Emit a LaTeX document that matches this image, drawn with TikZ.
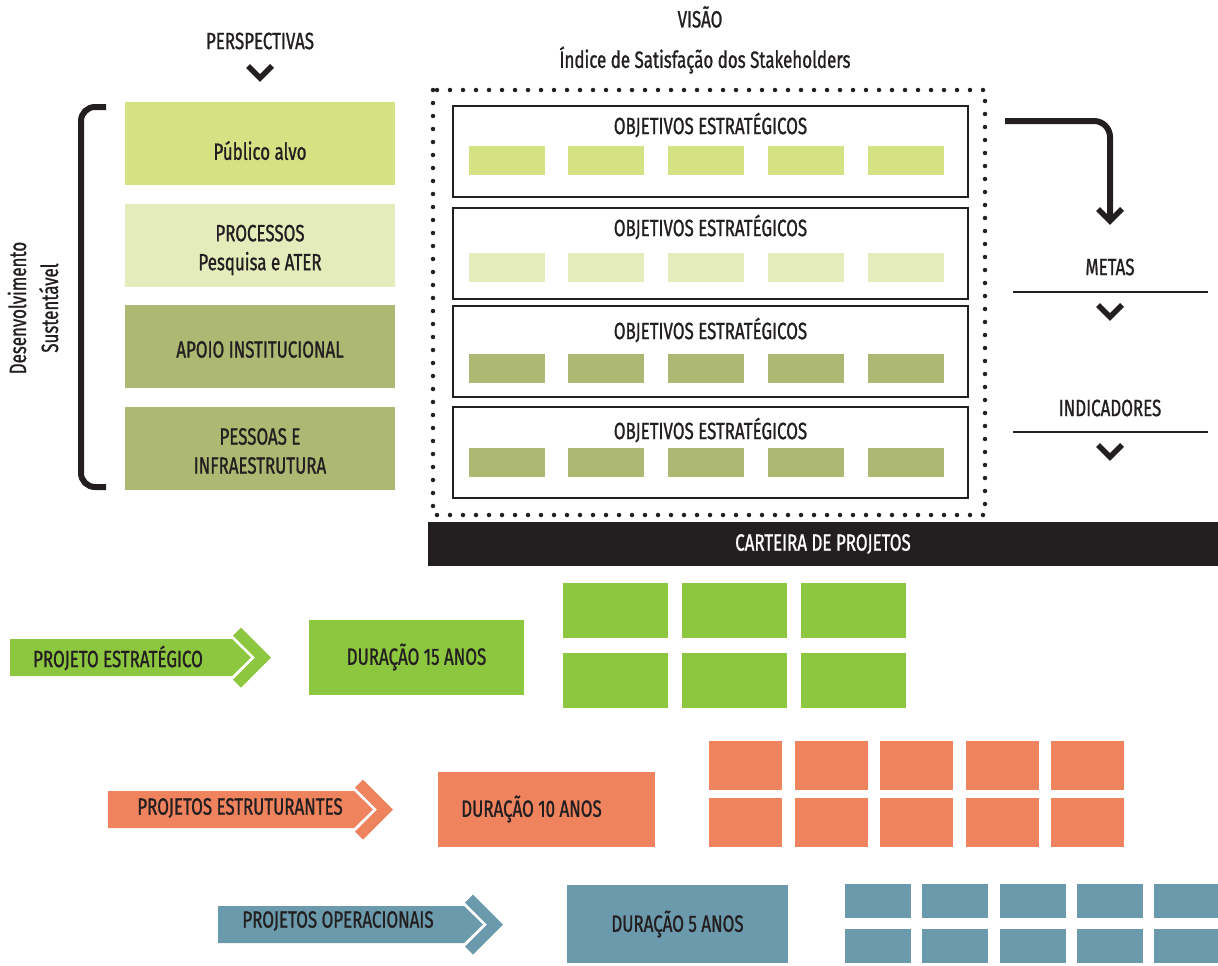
\documentclass[tikz,border=0pt]{standalone}
\usepackage{fontspec}
\setmainfont{Fira Sans}[FakeStretch=0.72, FakeBold=1]
\usepackage{xcolor}
\usepackage{tikz}
\usetikzlibrary{positioning,calc}

\definecolor{verdeclaro}{HTML}{D4E284}
\definecolor{verdepalido}{HTML}{E4ECBC}
\definecolor{verdeoliva}{HTML}{ADB972}
\definecolor{verdeproj}{HTML}{8DC63F}
\definecolor{laranja}{HTML}{EE835E}
\definecolor{azulproj}{HTML}{6A9AAB}
\definecolor{tinta}{HTML}{231F20}

% seta de projeto: barra + chevron
\newcommand\projseta[4]{%
  \fill[#4] (#1,{#3-18.5}) -- (#2,{#3-18.5}) -- ({#2+19},#3) -- (#2,{#3+18.5}) -- (#1,{#3+18.5}) -- cycle;
  \fill[#4] ({#2+9},{#3-30}) -- ({#2+39},#3) -- ({#2+9},{#3+30}) -- ({#2+1},{#3+22}) -- ({#2+23},#3) -- ({#2+1},{#3-22}) -- cycle;}
\newcommand\chevron[2]{%
  \draw[tinta, line width=5.5pt, line join=miter] ({#1-12},{#2-6}) -- (#1,{#2+6}) -- ({#1+12},{#2-6});}

\begin{document}
\begin{tikzpicture}[x=1pt, y=-1pt,
  every node/.style={font=\fontsize{23.5}{29}\selectfont, text=tinta},
  pbox/.style={minimum width=270pt, minimum height=83pt, inner sep=0pt},
  objbox/.style={draw=tinta, line width=2pt, minimum width=515pt, minimum height=91pt, inner sep=0pt},
  durbox/.style={minimum height=75pt, inner sep=0pt}]
  \useasboundingbox (0,0) rectangle (1218,966);

  \node (visao) at (700,17) {VISÃO};
  \node (indice) at (705,60) {Índice de Satisfação dos Stakeholders};
  \node (persp) at (260,41) {PERSPECTIVAS};
  \chevron{260}{72}

  % perspectivas
  \node[pbox, fill=verdeclaro] (persp1) at (260,143.5) {};
  \node[pbox, fill=verdepalido] (persp2) at (260,245) {};
  \node[pbox, fill=verdeoliva] (persp3) at (260,346.5) {};
  \node[pbox, fill=verdeoliva] (persp4) at (260,448.5) {};
  \node (ptxt1) at ([yshift=-7pt]persp1.center) {Público alvo};
  \node[align=center] (ptxt2) at ([yshift=-5pt]persp2.center) {PROCESSOS\\Pesquisa e ATER};
  \node (ptxt3) at ([yshift=-3pt]persp3.center) {APOIO INSTITUCIONAL};
  \node[align=center] (ptxt4) at ([yshift=-2.5pt]persp4.center) {PESSOAS E\\INFRAESTRUTURA};
  \draw[tinta, line width=6pt, rounded corners=14pt] (106,107) -| (81,300) |- (106,487);
  \node[rotate=90, align=center, font=\fontsize{23.5}{32}\selectfont] (desenv) at (33,308) {Desenvolvimento\\Sustentável};

  % objetivos
  \draw[tinta, line width=4.5pt, line cap=round, dash pattern=on 0pt off 13pt] (433,90) rectangle (985,515);
  \foreach \i/\yc/\yt/\ys/\cor in {1/151.5/125/160.5/verdeclaro, 2/253/227/267.5/verdepalido,
                                  3/351/330/368.5/verdeoliva, 4/452/430/462.5/verdeoliva}{
    \node[objbox] (obj\i) at (710.5,\yc) {};
    \node (tit\i) at (710.5,\yt) {OBJETIVOS ESTRATÉGICOS};
    \foreach \x in {507,606,706,806,906}
      \fill[\cor] ({\x-38},{\ys-14.5}) rectangle ({\x+38},{\ys+14.5});
  }
  \node[fill=tinta, text=white, minimum width=790pt, minimum height=44pt, inner sep=0pt] (carteira) at (823,544) {CARTEIRA DE PROJETOS};

  % metas e indicadores
  \coordinate (saida) at (1005,121);
  \draw[tinta, line width=6pt, rounded corners=16pt] (saida) -| (1110,220);
  \chevron{1110}{215}
  \node (metas) at (1110,267) {METAS};
  \draw[tinta, line width=2pt] (1013,292) -- (1208,292);
  \chevron{1110}{311}
  \node (indic) at (1110,408) {INDICADORES};
  \draw[tinta, line width=2pt] (1013,432) -- (1208,432);
  \chevron{1110}{451}

  % carteira de projetos
  \projseta{10}{232}{657.5}{verdeproj}
  \node (estr) at (118,658) {PROJETO ESTRATÉGICO};
  \node[durbox, fill=verdeproj, minimum width=215pt] (dur15) at (416.5,657) {DURAÇÃO 15 ANOS};
  \foreach \c in {0,1,2}
    \foreach \r in {0,1}
      \fill[verdeproj] ({563+119*\c},{583+70*\r}) rectangle +(105,55);

  \projseta{108}{354}{809.5}{laranja}
  \node (estrut) at (240,808) {PROJETOS ESTRUTURANTES};
  \node[durbox, fill=laranja, minimum width=217pt] (dur10) at (546.5,809) {\hspace*{-30pt}DURAÇÃO 10 ANOS};
  \foreach \c in {0,...,4}
    \foreach \r in {0,1}
      \fill[laranja] ({709+85.5*\c},{741+57*\r}) rectangle +(73,49);

  \projseta{218}{464}{924.5}{azulproj}
  \node (oper) at (338,921) {PROJETOS OPERACIONAIS};
  \node[durbox, fill=azulproj, minimum width=221pt, minimum height=78pt] (dur5) at (677.5,924) {DURAÇÃO 5 ANOS};
  \foreach \c in {0,...,4}
    \foreach \r in {0,1}
      \fill[azulproj] ({845+77.3*\c},{884+45*\r}) rectangle +(66,34);
\end{tikzpicture}
\end{document}
